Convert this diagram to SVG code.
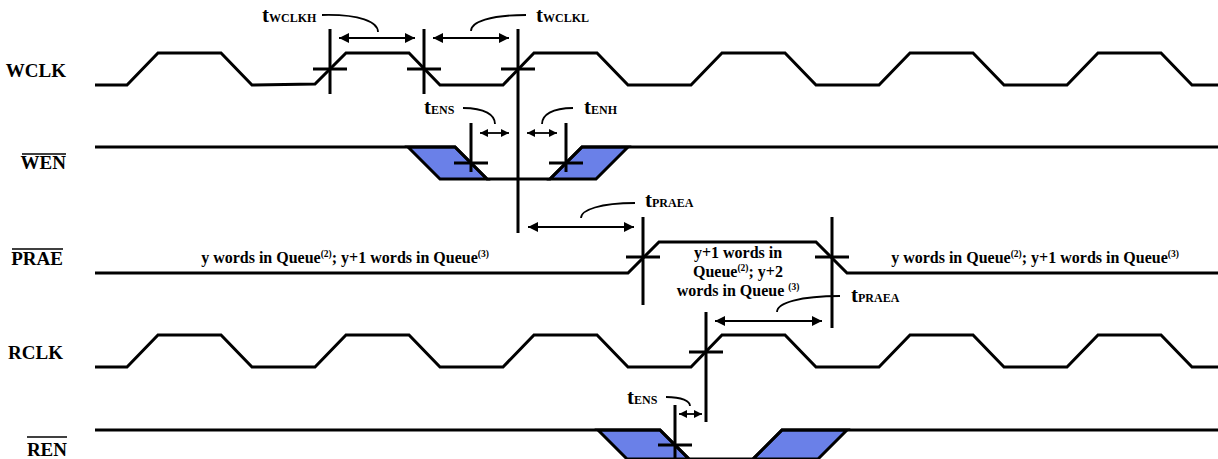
<svg xmlns="http://www.w3.org/2000/svg" width="1218" height="459" viewBox="0 0 1218 459">
<style>
.wave{fill:none;stroke:#000;stroke-width:3;stroke-linejoin:miter}
.blue{fill:#6A80E8;stroke:#000;stroke-width:3;stroke-linejoin:miter}
.cross{stroke:#000;stroke-width:3;fill:none}
.arr{stroke:#000;stroke-width:1.8;fill:none;marker-start:url(#ah);marker-end:url(#ah)}
.arrs{stroke:#000;stroke-width:1.8;fill:none;marker-start:url(#ahs);marker-end:url(#ahs)}
.lead{stroke:#000;stroke-width:1.8;fill:none}
.ov{stroke:#000;stroke-width:1.5}
text{font-family:'Liberation Serif','Times New Roman','DejaVu Serif',serif;font-weight:bold;fill:#000}
.sig{font-size:19px}
.txt{font-size:16px}
.sup{font-size:9.5px}
.tm{font-size:21px}
.sub{font-size:12px}
</style>
<defs>
<marker id="ah" viewBox="0 0 10 10" refX="10" refY="5" markerWidth="10" markerHeight="10" markerUnits="userSpaceOnUse" orient="auto-start-reverse"><path d="M0,0 L10,5 L0,10 Z" fill="#000"/></marker>
<marker id="ahs" viewBox="0 0 10 10" refX="10" refY="5" markerWidth="8" markerHeight="8" markerUnits="userSpaceOnUse" orient="auto-start-reverse"><path d="M0,0 L10,5 L0,10 Z" fill="#000"/></marker>
</defs>
<rect width="1218" height="459" fill="#fff"/>

<g id="WCLK">
<text class="sig" x="66" y="77" text-anchor="end" font-family="Liberation Serif, serif">WCLK</text>
<path class="wave" d="M95,85 L127,85 L158,53 L221,53 L252,85 L315,84 L346,53 L409,53 L440,85 L503,85 L534,53 L597,53 L628,85 L691,85 L722,53 L785,53 L816,85 L879,85 L910,53 L973,53 L1004,85 L1067,85 L1098,53 L1161,53 L1192,85 L1218,85"/>
<path class="cross" d="M330,29 V94 M313,69 H347 M424,29 V94 M407,69 H441 M518,29 V233 M501,69 H535"/>
</g>

<g id="WEN">
<text class="sig" x="66" y="169" text-anchor="end">WEN</text>
<line class="ov" x1="22" y1="154" x2="66" y2="154"/>
<polygon class="blue" points="408,147 455,147 487,179 440,179"/>
<polygon class="blue" points="550,179 596,179 628,147 582,147"/>
<path class="wave" d="M95,147 L455,147 L487,179 L550,179 L582,147 L1218,147"/>
<path class="cross" d="M471,123 V172 M454,163 H488 M566,123 V172 M549,163 H583"/>
</g>

<g id="PRAE">
<text class="sig" x="63" y="265" text-anchor="end">PRAE</text>
<line class="ov" x1="12" y1="249" x2="63" y2="249"/>
<path class="wave" d="M95,273 L628,273 L659,242 L816,242 L847,273 L1218,273"/>
<path class="cross" d="M643,217 V305 M626,257 H660 M832,217 V328 M815,257 H849"/>
<text class="txt" x="345" y="263" text-anchor="middle">y words in Queue<tspan class="sup" dy="-6">(2)</tspan><tspan dy="6">; y+1 words in Queue</tspan><tspan class="sup" dy="-6">(3)</tspan></text>
<text class="txt" x="1035" y="263" text-anchor="middle">y words in Queue<tspan class="sup" dy="-6">(2)</tspan><tspan dy="6">; y+1 words in Queue</tspan><tspan class="sup" dy="-6">(3)</tspan></text>
<text class="txt" x="738" y="258" text-anchor="middle">y+1 words in</text>
<text class="txt" x="738" y="277" text-anchor="middle">Queue<tspan class="sup" dy="-6">(2)</tspan><tspan dy="6">; y+2</tspan></text>
<text class="txt" x="738" y="296" text-anchor="middle">words in Queue <tspan class="sup" dy="-6">(3)</tspan></text>
</g>

<g id="RCLK">
<text class="sig" x="63" y="359" text-anchor="end">RCLK</text>
<path class="wave" d="M95,367 L127,367 L158,335 L221,335 L252,367 L315,367 L346,335 L409,335 L440,367 L503,367 L534,335 L597,335 L628,367 L691,367 L722,335 L785,335 L816,367 L879,367 L910,335 L973,335 L1004,367 L1067,367 L1098,335 L1161,335 L1192,367 L1218,367"/>
<path class="cross" d="M706,312 V422 M689,352 H723"/>
</g>

<g id="REN">
<text class="sig" x="67" y="456" text-anchor="end">REN</text>
<line class="ov" x1="27" y1="437" x2="67" y2="437"/>
<polygon class="blue" points="598,430 660,430 689,459 627,459"/>
<polygon class="blue" points="753,459 818,459 847,430 782,430"/>
<path class="wave" d="M95,430 L660,430 L689,459 L753,459 L782,430 L1218,430"/>
<path class="cross" d="M675,405 V462 M658,445 H692"/>
</g>

<g id="connectors">
<line class="arr" x1="339" y1="38" x2="415" y2="38"/>
<line class="arr" x1="433" y1="38" x2="509" y2="38"/>
<line class="arrs" x1="480" y1="133" x2="509" y2="133"/>
<line class="arrs" x1="527" y1="133" x2="557" y2="133"/>
<line class="arr" x1="528" y1="227" x2="634" y2="227"/>
<line class="arr" x1="715" y1="321" x2="822" y2="321"/>
<line class="arrs" x1="679" y1="414" x2="702" y2="414"/>
<path class="lead" d="M322,15 C360,14 378,22 378,32"/>
<path class="lead" d="M526,15 C490,15 471,22 471,31"/>
<path class="lead" d="M463,108 C485,108 495,115 495,124"/>
<path class="lead" d="M573,108 C552,108 542,115 542,124"/>
<path class="lead" d="M635,203 C600,203 581,210 581,218"/>
<path class="lead" d="M840,296 C800,296 777,303 777,312"/>
<path class="lead" d="M666,397 C682,397 690,401 690,406"/>
</g>

<g id="labels">
<text class="tm" x="262" y="22">t<tspan class="sub">WCLKH</tspan></text>
<text class="tm" x="536" y="22">t<tspan class="sub">WCLKL</tspan></text>
<text class="tm" x="424" y="114">t<tspan class="sub">ENS</tspan></text>
<text class="tm" x="584" y="114">t<tspan class="sub">ENH</tspan></text>
<text class="tm" x="645" y="207">t<tspan class="sub">PRAEA</tspan></text>
<text class="tm" x="851" y="302">t<tspan class="sub">PRAEA</tspan></text>
<text class="tm" x="627" y="404">t<tspan class="sub">ENS</tspan></text>
</g>
</svg>
